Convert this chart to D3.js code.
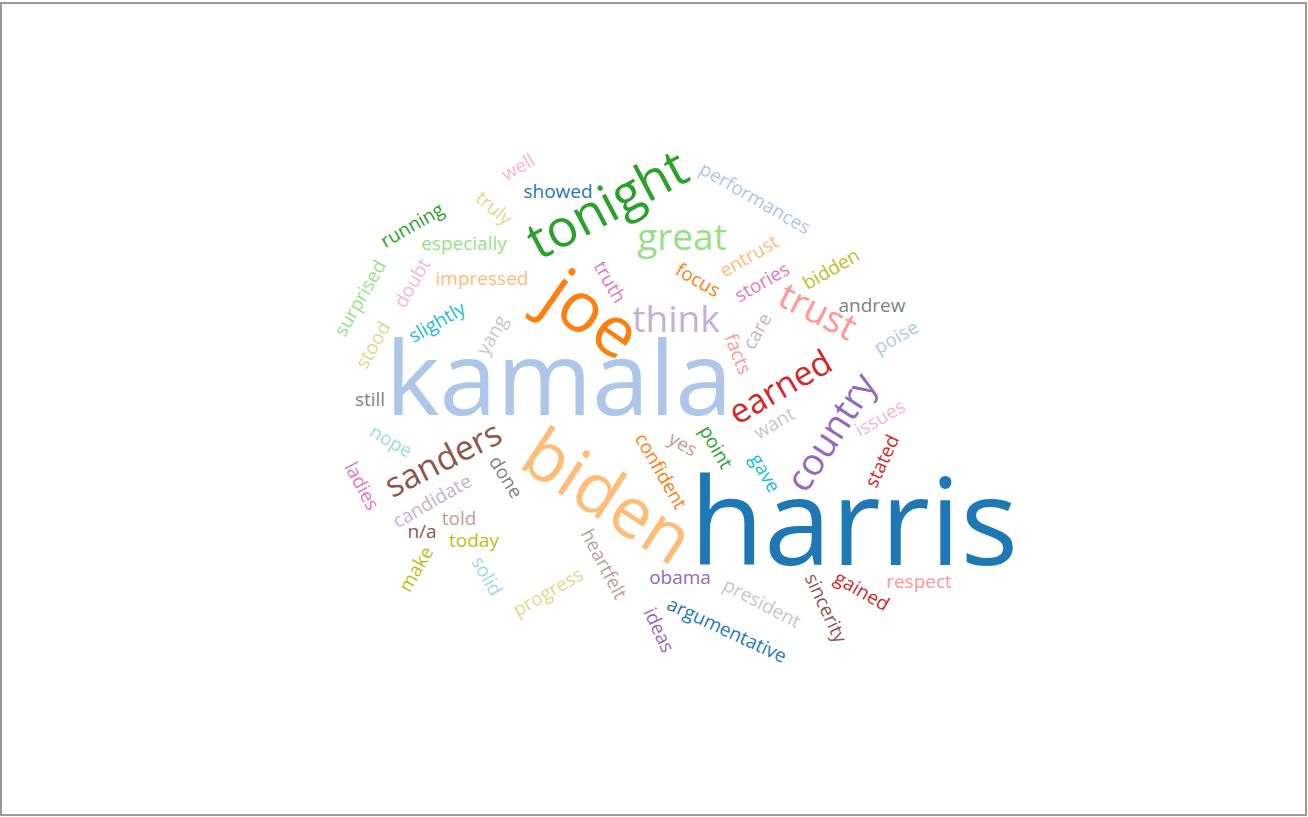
<!DOCTYPE html>
<html>
<head>
<meta charset="utf-8">
<script src="https://cdn.jsdelivr.net/npm/d3@7"></script>
<style>
  html, body { margin: 0; padding: 0; background: #fff; }
  svg { display: block; }
</style>
</head>
<body>
<svg id="chart"></svg>
<script>
// ---- data: words in rank order and their frequencies ----
const words = [
  "harris","kamala","joe","biden","tonight","great","earned","trust","country","think",
  "sanders","told","truth","well","still","yang","bidden","truly","slightly","nope",
  "showed","performances","focus","entrust","running","especially","gained","facts","obama","candidate",
  "n/a","yes","ladies","doubt","andrew","want","today","stood","gave","solid",
  "argumentative","poise","confident","impressed","point","surprised","stated","respect","ideas","care",
  "sincerity","heartfelt","stories","issues","done","president","make","progress"
];
const counts = [
  35,29,18,18,12,7,6,7,7,7,
  6,1,1,1,1,1,1,1,1,1,
  1,1,1,1,1,1,1,1,1,1,
  1,1,1,1,1,1,1,1,1,1,
  1,1,1,1,1,1,1,1,1,1,
  1,1,1,1,1,1,1,1
];
// Tableau-20 palette, assigned by rank
const palette = ["#1f77b4","#aec7e8","#ff7f0e","#ffbb78","#2ca02c","#98df8a","#d62728","#ff9896",
  "#9467bd","#c5b0d5","#8c564b","#c49c94","#e377c2","#f7b6d2","#7f7f7f","#c7c7c7",
  "#bcbd22","#dbdb8d","#17becf","#9edae5"];

// ---- cloud layout result (cloud space, origin at the cloud centre) ----
const cloudX = [
  182,-113,-80,-64,-65,10,108,146,159,4,
  -229,-213,-62,-154,-302,-180,159,-178,-235,-281,
  -114,83,26,77,-260,-208,190,66,8,-240,
  -250,11,-310,-260,200,102,-198,-299,93,-185,
  55,224,-11,-190,44,-312,210,247,-13,85,
  154,-68,90,208,-166,90,-256,-124
];
const cloudY = [
  113,-31,-96,86,-206,-173,-23,-99,22,-91,
  49,108,-128,-243,-11,-75,-141,-202,-88,31,
  -219,-212,-130,-154,-185,-167,181,-56,167,91,
  121,34,76,-127,-105,13,130,-65,63,166,
  220,-73,61,-132,37,-112,51,171,220,-79,
  198,154,-128,8,67,193,159,182
];
const cloudRotate = [
  0,0,35,33,-28,0,-30,27,-57,0,
  -27,0,60,-30,0,-60,-30,40,-30,30,
  0,30,30,-30,-30,0,30,68,0,-30,
  0,30,62,-60,0,-30,0,-60,60,60,
  25,-30,60,0,60,-60,-65,0,65,-60,
  65,62,-30,-30,58,28,-60,-30
];

// ---- drawing ----
const W = 1308, H = 817;
const cx = 672, cy = 410;

const svg = d3.select("#chart").attr("width", W).attr("height", H);

svg.append("rect")
  .attr("x", 1).attr("y", 3)
  .attr("width", W - 3).attr("height", H - 5)
  .attr("fill", "#fff")
  .attr("stroke", "#9a9a9a")
  .attr("stroke-width", 2);

const x = d3.scaleLinear().domain([-400, 400]).range([cx - 400, cx + 400]);
const y = d3.scaleLinear().domain([-300, 300]).range([cy - 300, cy + 300]);
const fontSize = d3.scaleLinear().domain([1, 35]).range([19, 121]);
const color = d3.scaleOrdinal().domain(d3.range(palette.length)).range(palette);

const data = words.map((w, i) => ({
  text: w, count: counts[i], x: cloudX[i], y: cloudY[i], rotate: cloudRotate[i], rank: i
}));

svg.append("g")
  .attr("font-family", "'Segoe UI', 'Open Sans', sans-serif")
  .selectAll("text")
  .data(data)
  .join("text")
  .attr("text-anchor", "middle")
  .attr("dy", "0.35em")
  .attr("transform", d => `translate(${x(d.x)},${y(d.y)}) rotate(${d.rotate})`)
  .attr("font-size", d => fontSize(d.count) + "px")
  .attr("fill", d => color(d.rank % palette.length))
  .text(d => d.text);
</script>
</body>
</html>
